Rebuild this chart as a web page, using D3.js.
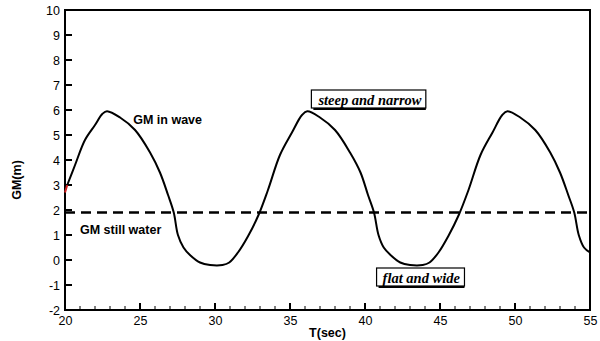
<!DOCTYPE html>
<html lang="en">
<head>
<meta charset="UTF-8">
<title>GM in wave</title>
<script src="https://d3js.org/d3.v7.min.js"></script>
<style>
body { margin: 0; background: #fff; }
svg { display: block; }
text { font-family: Arial, "Liberation Sans", Helvetica, sans-serif; fill: #000; }
.tick text { font-size: 12.5px; }
.lbl { font-size: 12.5px; font-weight: bold; }
.note { font-family: "Liberation Serif", "DejaVu Serif", serif; font-style: italic; font-weight: bold; font-size: 14.5px; }
</style>
</head>
<body>
<svg id="chart" width="600" height="341"></svg>
<script>
// GM in wave (T, GM)
const redStart = [[20, 2.7], [20.15, 3.0]];
const gmWave = [
  [20.15, 3.0], [20.67, 3.8], [21.33, 4.8], [22.0, 5.4], [22.5, 5.85], [22.8, 5.95],
  [23.67, 5.7], [24.67, 5.2], [25.67, 4.3], [26.33, 3.5], [26.87, 2.6], [27.25, 1.9],
  [27.53, 1.0], [27.9, 0.5], [28.33, 0.2], [29.0, -0.1], [29.67, -0.2], [30.5, -0.2],
  [30.95, -0.1], [31.53, 0.3], [32.2, 0.95], [32.9, 1.8], [33.53, 2.8], [34.33, 4.2],
  [35.13, 5.1], [35.8, 5.8], [36.15, 5.95],
  [37.0, 5.7], [38.0, 5.2], [39.0, 4.3], [39.7, 3.5], [40.2, 2.6], [40.6, 1.9],
  [40.9, 1.0], [41.25, 0.5], [41.7, 0.2], [42.35, -0.1], [43.0, -0.2], [43.85, -0.2],
  [44.3, -0.1], [44.9, 0.3], [45.55, 0.95], [46.25, 1.8], [46.9, 2.8], [47.7, 4.2],
  [48.5, 5.1], [49.15, 5.8], [49.5, 5.95],
  [50.35, 5.7], [51.35, 5.2], [52.35, 4.3], [53.0, 3.5], [53.55, 2.6], [53.95, 1.9],
  [54.25, 1.0], [54.6, 0.5], [55.0, 0.3]
];
const gmStill = 1.9;
const xTicks = [20, 25, 30, 35, 40, 45, 50, 55];
const yTicks = [-2, -1, 0, 1, 2, 3, 4, 5, 6, 7, 8, 9, 10];
const notes = [
  {t: 40.33, text: "steep and narrow", gm: 6.4},
  {t: 43.75, text: "flat and wide", gm: -0.72}
];

const svg = d3.select("#chart");
const mLeft = 65, mRight = 590, mTop = 10, mBottom = 310;

const x = d3.scaleLinear().domain([20, 55]).range([mLeft, mRight]);
const y = d3.scaleLinear().domain([-2, 10]).range([mBottom, mTop]);

// frame
svg.append("rect")
  .attr("x", mLeft).attr("y", mTop)
  .attr("width", mRight - mLeft).attr("height", mBottom - mTop)
  .attr("fill", "none").attr("stroke", "#000").attr("stroke-width", 2);

// x axis, major + minor ticks inside
const xAxis = svg.append("g").attr("transform", `translate(0,${mBottom})`)
  .call(d3.axisBottom(x).tickValues(xTicks).tickSize(0).tickPadding(6).tickFormat(d => String(d)));
xAxis.select(".domain").remove();
svg.append("g").selectAll("line").data(d3.range(21, 55).filter(d => d % 5 !== 0))
  .join("line")
  .attr("x1", d => x(d)).attr("x2", d => x(d))
  .attr("y1", mBottom).attr("y2", mBottom - 4)
  .attr("stroke", "#000").attr("stroke-width", 1);
svg.append("g").selectAll("line").data(xTicks)
  .join("line")
  .attr("x1", d => x(d)).attr("x2", d => x(d))
  .attr("y1", mBottom).attr("y2", mBottom - 7)
  .attr("stroke", "#000").attr("stroke-width", 2);

// y axis
const yAxis = svg.append("g").attr("transform", `translate(${mLeft},0)`)
  .call(d3.axisLeft(y).tickValues(yTicks).tickSize(0).tickPadding(5).tickFormat(d => String(d)));
yAxis.select(".domain").remove();
svg.append("g").selectAll("line").data(yTicks)
  .join("line")
  .attr("x1", mLeft).attr("x2", mLeft + 7)
  .attr("y1", d => y(d)).attr("y2", d => y(d))
  .attr("stroke", "#000").attr("stroke-width", 2);

// axis titles
svg.append("text").attr("class", "lbl")
  .attr("x", (mLeft + mRight) / 2).attr("y", 337)
  .attr("text-anchor", "middle").text("T(sec)");
svg.append("text").attr("class", "lbl")
  .attr("transform", `translate(21,${y(3.2)}) rotate(-90)`)
  .attr("text-anchor", "middle").text("GM(m)");

// still water line
svg.append("line")
  .attr("x1", x(20)).attr("x2", x(55))
  .attr("y1", y(gmStill)).attr("y2", y(gmStill))
  .attr("stroke", "#000").attr("stroke-width", 2.5)
  .attr("stroke-dasharray", "10,6");

// wave curve
const line = d3.line().x(d => x(d[0])).y(d => y(d[1])).curve(d3.curveCatmullRom);
svg.append("path").datum(redStart).attr("d", line)
  .attr("fill", "none").attr("stroke", "#d02020").attr("stroke-width", 2);
svg.append("path").datum(gmWave).attr("d", line)
  .attr("fill", "none").attr("stroke", "#000").attr("stroke-width", 2);

// series labels
svg.append("text").attr("class", "lbl").attr("x", x(24.55)).attr("y", y(5.45)).text("GM in wave");
svg.append("text").attr("class", "lbl").attr("x", x(21)).attr("y", y(1.05)).text("GM still water");

// boxed notes with a small drop shadow
notes.forEach(n => {
  const g = svg.append("g");
  const txt = g.append("text").attr("class", "note")
    .attr("x", x(n.t)).attr("y", y(n.gm))
    .attr("dominant-baseline", "central")
    .attr("text-anchor", "middle").text(n.text);
  const b = txt.node().getBBox();
  g.insert("rect", "text")
    .attr("x", b.x - 4).attr("y", b.y)
    .attr("width", b.width + 8).attr("height", b.height + 2)
    .attr("fill", "#000");
  g.insert("rect", "text")
    .attr("x", b.x - 6).attr("y", b.y - 2)
    .attr("width", b.width + 10).attr("height", b.height + 2)
    .attr("fill", "#fff").attr("stroke", "#000").attr("stroke-width", 1.2);
});
</script>
</body>
</html>
